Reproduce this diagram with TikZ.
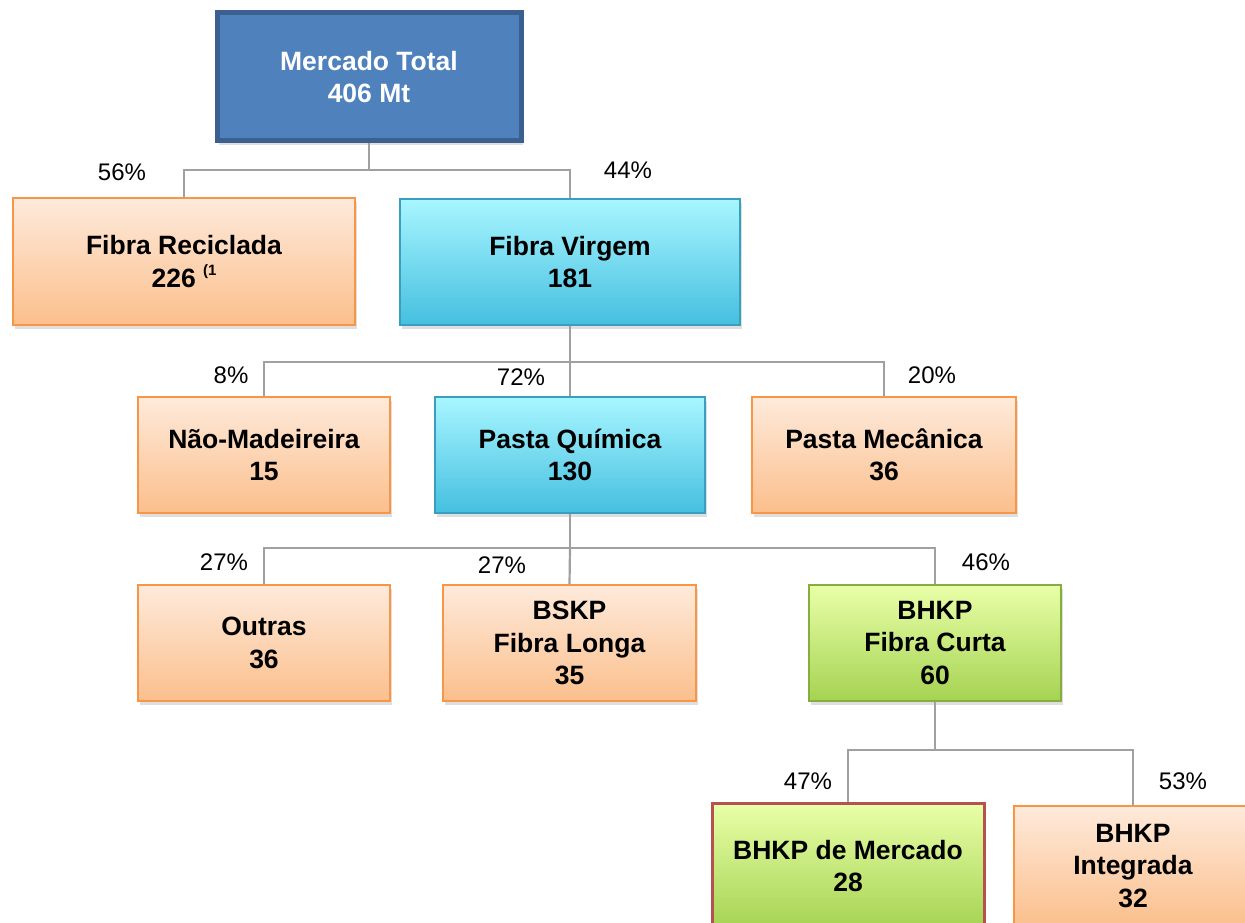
\documentclass[tikz,border=0pt]{standalone}
\usepackage{fontspec}
\setmainfont{Liberation Sans}
\usetikzlibrary{shadows,shadings}
\definecolor{orbord}{HTML}{F79646}
\definecolor{ortop}{HTML}{FEEADB}
\definecolor{orbot}{HTML}{FBBF8C}
\definecolor{cytop}{HTML}{A8F6FF}
\definecolor{cybot}{HTML}{45BFE0}
\definecolor{cybord}{HTML}{3A9FBF}
\definecolor{grtop}{HTML}{E9FFA8}
\definecolor{grbot}{HTML}{A5D352}
\definecolor{grbord}{HTML}{86AE3E}
\definecolor{blfill}{HTML}{4F81BD}
\definecolor{blbord}{HTML}{3B5F8E}
\definecolor{redbord}{HTML}{B5524E}
\definecolor{conn}{HTML}{A0A0A0}
\tikzset{
  boxbase/.style={rectangle, align=center, font=\fontsize{26.5}{32.5}\selectfont\bfseries,
    inner sep=0pt, drop shadow={shadow xshift=2pt, shadow yshift=-4pt, opacity=0.25}},
  orangebox/.style={boxbase, draw=orbord, line width=1.5pt, top color=ortop, bottom color=orbot},
  cyanbox/.style={boxbase, draw=cybord, line width=1.2pt, top color=cytop, bottom color=cybot},
  greenbox/.style={boxbase, draw=grbord, line width=1.2pt, top color=grtop, bottom color=grbot},
  bluebox/.style={boxbase, draw=blbord, line width=5pt, fill=blfill, text=white},
  conline/.style={draw=conn, line width=2.2pt},
  pct/.style={font=\fontsize{24}{28}\selectfont, inner sep=0pt}
}
\begin{document}
\begin{tikzpicture}[x=1pt,y=-1pt]
\useasboundingbox (0,0) rectangle (1245,923);
% nodes
\node[bluebox, minimum width=304pt, minimum height=128pt] (mt) at (369,77) {Mercado Total\\406 Mt};
\node[orangebox, minimum width=342pt, minimum height=127pt] (fr) at (184,261.5) {Fibra Reciclada\\226 \raisebox{0.45em}{\fontsize{15}{15}\selectfont(1}};
\node[cyanbox, minimum width=340pt, minimum height=126pt] (fv) at (570,262) {Fibra Virgem\\181};
\node[orangebox, minimum width=252pt, minimum height=116pt] (nm) at (264,455) {Não-Madeireira\\15};
\node[cyanbox, minimum width=270pt, minimum height=116pt] (pq) at (570,455) {Pasta Química\\130};
\node[orangebox, minimum width=264pt, minimum height=116pt] (pm) at (884,455) {Pasta Mecânica\\36};
\node[orangebox, minimum width=252pt, minimum height=116pt] (ou) at (264,643) {Outras\\36};
\node[orangebox, minimum width=253pt, minimum height=116pt] (bs) at (569.5,643) {BSKP\\Fibra Longa\\35};
\node[greenbox, minimum width=252pt, minimum height=116pt] (bh) at (935,643) {BHKP\\Fibra Curta\\60};
\node[greenbox, draw=redbord, line width=3pt, minimum width=272pt, minimum height=126pt] (bm) at (848,866) {BHKP de Mercado\\28};
\node[orangebox, minimum width=238pt, minimum height=120pt] (bi) at (1133,866) {BHKP\\Integrada\\32};
% connectors
\coordinate (j1) at (369,170);
\draw[conline] (mt.south) -- (j1);
\draw[conline] (fr.north) |- (j1) -| (fv.north);
\coordinate (j2) at (570,362);
\draw[conline] (fv.south) -- (j2);
\draw[conline] (nm.north) |- (j2) -| (pm.north);
\draw[conline] (j2) -- (pq.north);
\coordinate (j3) at (570,548);
\draw[conline] (pq.south) -- (j3);
\draw[conline] (ou.north) |- (j3) -| (bh.north);
\draw[conline] (j3) -- (bs.north);
\coordinate (j4) at (935,750);
\draw[conline] (bh.south) -- (j4);
\draw[conline] (bm.north) |- (j4) -| (bi.north);
% percentages
\node[pct] (p1) at (122,172) {56\%};
\node[pct] (p2) at (628,170) {44\%};
\node[pct] (p3) at (231,375) {8\%};
\node[pct] (p4) at (521,377) {72\%};
\node[pct] (p5) at (932,375) {20\%};
\node[pct] (p6) at (224,562) {27\%};
\node[pct] (p7) at (502,565) {27\%};
\node[pct] (p8) at (986,562) {46\%};
\node[pct] (p9) at (808,781) {47\%};
\node[pct] (p10) at (1183,781) {53\%};
\end{tikzpicture}
\end{document}
